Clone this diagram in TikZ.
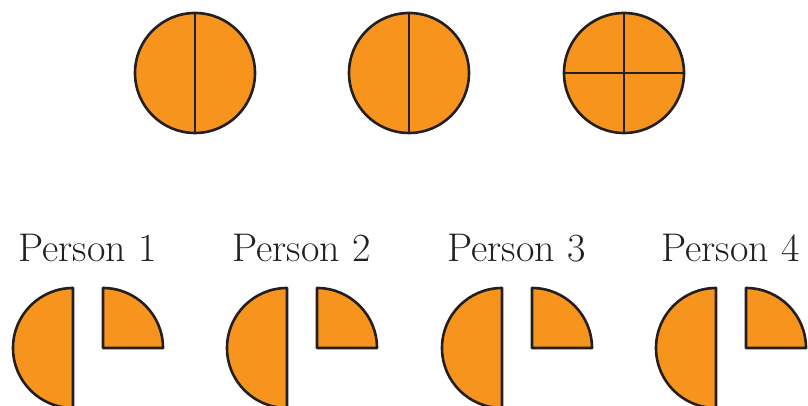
\documentclass[tikz,border=0pt]{standalone}
\definecolor{fillor}{HTML}{F7941D}
\definecolor{edge}{HTML}{231F20}
\begin{document}
\begin{tikzpicture}[x=1pt,y=1pt,
  piece/.style={fill=fillor,draw=edge,line width=2.6pt,line join=round},
  divline/.style={draw=edge,line width=2.6pt},
  label/.style={anchor=base,inner sep=0pt,font=\fontsize{40}{42}\selectfont,text=edge}]
\useasboundingbox (0,0) rectangle (808,406);
\clip (0,0) rectangle (808,406);
% top circles
\draw[piece] (195,333) circle[radius=60];
\draw[divline] (195,273) -- (195,393);
\draw[piece] (409,333) circle[radius=60];
\draw[divline] (409,273) -- (409,393);
\draw[piece] (624,333) circle[radius=60];
\draw[divline] (624,273) -- (624,393);
\draw[divline] (564,333) -- (684,333);
% persons
\foreach \cx/\n in {73/1,287/2,502/3,716/4}{
  \node[label] (p\n) at (\cx+14.5,144) {Person \n};
  \draw[piece] (\cx,118) arc[start angle=90,end angle=270,radius=60] -- cycle;
  \draw[piece] (\cx+30,58) -- (\cx+90,58) arc[start angle=0,end angle=90,radius=60] -- cycle;
}
\end{tikzpicture}
\end{document}
